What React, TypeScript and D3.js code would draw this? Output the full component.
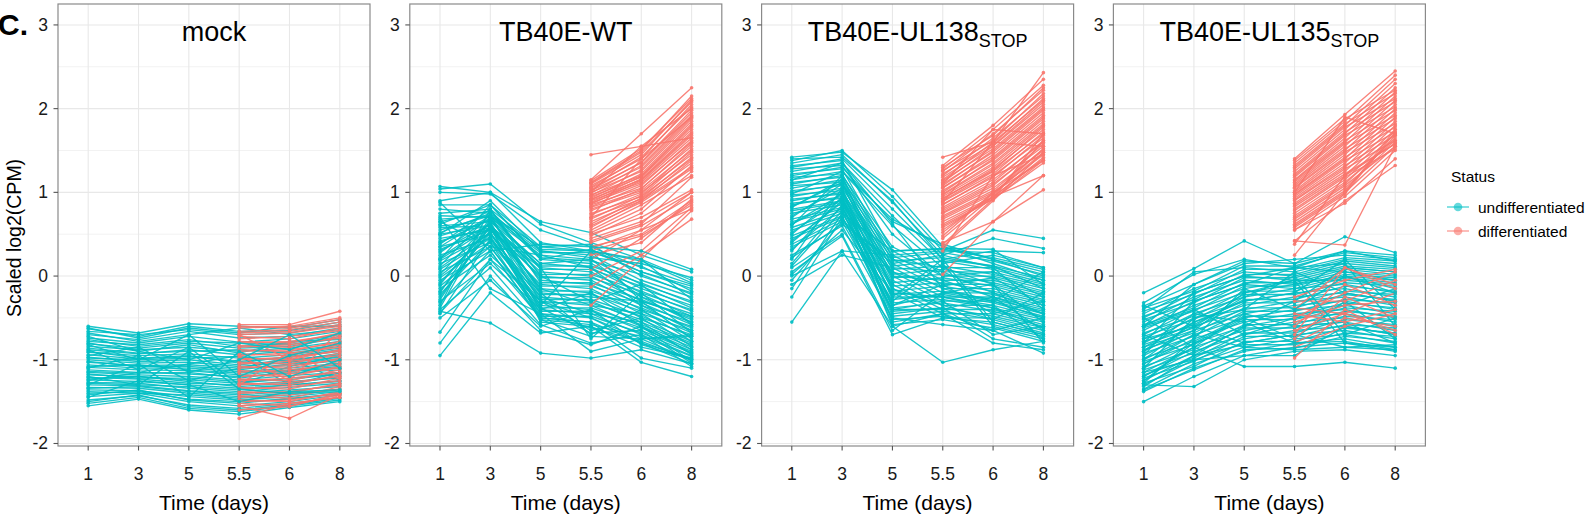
import React from "react";
import * as d3 from "d3";

// ---------- data ----------
const TIMES = ["1", "3", "5", "5.5", "6", "8"];
const DIFF_TIMES = ["5.5", "6", "8"];
const Y_TICKS = [-2, -1, 0, 1, 2, 3];
const Y_MINOR = [-1.5, -0.5, 0.5, 1.5, 2.5];
const PANEL_TITLES = ["mock", "TB40E-WT", "TB40E-UL138", "TB40E-UL135"];
const PANEL_SUBS = ["", "", "STOP", "STOP"];
const LEGEND_LABELS = ["undifferentiated", "differentiated"];

// undifferentiated: values at days 1,3,5,5.5,6,8
const mockUndiff = [
  [-0.60, -0.68, -0.57, -0.60, -0.62, -0.52],
  [-0.63, -0.72, -0.60, -0.66, -0.65, -0.55],
  [-0.66, -0.70, -0.64, -0.70, -0.68, -0.58],
  [-0.70, -0.76, -0.66, -0.74, -0.72, -0.62],
  [-0.74, -0.80, -0.72, -0.79, -0.75, -0.66],
  [-0.78, -0.82, -0.76, -0.84, -0.80, -0.70],
  [-0.81, -0.86, -0.80, -0.86, -0.84, -0.74],
  [-0.84, -0.88, -0.85, -0.90, -0.86, -0.78],
  [-0.88, -0.93, -0.88, -0.94, -0.90, -0.82],
  [-0.91, -0.95, -0.93, -0.98, -0.94, -0.86],
  [-0.94, -0.99, -0.96, -1.02, -0.97, -0.90],
  [-0.97, -1.02, -1.00, -1.06, -1.00, -0.94],
  [-1.00, -1.04, -1.03, -1.08, -1.03, -0.97],
  [-1.03, -1.07, -1.06, -1.10, -1.07, -1.01],
  [-1.06, -1.10, -1.10, -1.14, -1.10, -1.04],
  [-1.09, -1.12, -1.13, -1.18, -1.13, -1.08],
  [-1.12, -1.15, -1.17, -1.20, -1.16, -1.12],
  [-1.15, -1.18, -1.20, -1.24, -1.19, -1.15],
  [-1.18, -1.20, -1.24, -1.28, -1.22, -1.18],
  [-1.21, -1.23, -1.28, -1.30, -1.26, -1.22],
  [-1.24, -1.26, -1.30, -1.34, -1.30, -1.25],
  [-1.27, -1.28, -1.34, -1.38, -1.33, -1.28],
  [-1.30, -1.31, -1.37, -1.40, -1.36, -1.32],
  [-1.33, -1.34, -1.40, -1.44, -1.40, -1.35],
  [-1.36, -1.37, -1.44, -1.48, -1.44, -1.38],
  [-1.40, -1.38, -1.47, -1.50, -1.47, -1.40],
  [-1.44, -1.40, -1.50, -1.55, -1.50, -1.42],
  [-1.48, -1.43, -1.54, -1.58, -1.52, -1.45],
  [-1.52, -1.45, -1.58, -1.62, -1.55, -1.48],
  [-1.55, -1.47, -1.60, -1.65, -1.57, -1.50],
  [-0.62, -0.74, -0.62, -0.68, -0.60, -0.60],
  [-0.68, -0.78, -0.70, -0.62, -0.70, -0.64],
  [-0.76, -0.84, -0.78, -0.80, -0.82, -0.72],
  [-0.80, -0.90, -0.82, -0.92, -0.78, -0.76],
  [-0.86, -0.92, -0.90, -0.88, -0.92, -0.84],
  [-0.90, -0.98, -0.95, -1.04, -0.96, -0.88],
  [-0.98, -1.00, -0.98, -0.96, -1.02, -0.92],
  [-1.02, -1.08, -1.08, -1.12, -1.05, -0.99],
  [-1.08, -1.06, -1.12, -1.16, -1.12, -1.06],
  [-1.14, -1.16, -1.15, -1.22, -1.14, -1.10],
  [-1.17, -1.22, -1.22, -1.26, -1.24, -1.16],
  [-1.23, -1.20, -1.26, -1.32, -1.28, -1.20],
  [-1.28, -1.30, -1.32, -1.36, -1.30, -1.26],
  [-1.34, -1.32, -1.38, -1.42, -1.38, -1.30],
  [-1.38, -1.40, -1.42, -1.46, -1.42, -1.36],
  [-1.42, -1.36, -1.48, -1.52, -1.46, -1.41],
  [-1.50, -1.42, -1.56, -1.60, -1.54, -1.46],
  [-1.10, -0.95, -1.25, -1.10, -0.98, -1.25],
  [-0.88, -1.12, -0.85, -1.30, -1.08, -0.95],
  [-1.25, -1.15, -1.05, -0.95, -1.30, -1.15],
  [-0.82, -1.00, -0.70, -1.20, -0.95, -0.80],
  [-1.30, -1.05, -1.45, -0.90, -1.20, -1.00],
  [-0.95, -0.85, -1.15, -1.00, -0.70, -1.10],
  [-1.20, -1.30, -0.90, -1.35, -1.40, -1.38],
  [-0.72, -0.90, -1.00, -0.80, -0.88, -0.68],
  [-1.45, -1.25, -1.30, -1.50, -1.38, -1.36],
];
// differentiated: values at days 5.5,6,8
const mockDiff = [
  [-0.58, -0.58, -0.42],
  [-0.60, -0.62, -0.52],
  [-0.62, -0.60, -0.50],
  [-0.66, -0.64, -0.55],
  [-0.68, -0.66, -0.58],
  [-0.70, -0.68, -0.60],
  [-0.72, -0.75, -0.62],
  [-0.75, -0.72, -0.65],
  [-0.78, -0.80, -0.68],
  [-0.80, -0.78, -0.70],
  [-0.83, -0.85, -0.72],
  [-0.85, -0.82, -0.74],
  [-0.88, -0.90, -0.78],
  [-0.90, -0.88, -0.80],
  [-0.93, -0.95, -0.82],
  [-0.95, -0.92, -0.85],
  [-0.98, -1.00, -0.88],
  [-1.00, -0.97, -0.90],
  [-1.03, -1.05, -0.92],
  [-1.05, -1.02, -0.95],
  [-1.08, -1.10, -0.98],
  [-1.10, -1.07, -1.00],
  [-1.13, -1.15, -1.02],
  [-1.15, -1.12, -1.05],
  [-1.18, -1.20, -1.08],
  [-1.20, -1.17, -1.10],
  [-1.23, -1.25, -1.12],
  [-1.25, -1.22, -1.15],
  [-1.28, -1.30, -1.18],
  [-1.30, -1.27, -1.20],
  [-1.33, -1.35, -1.22],
  [-1.35, -1.32, -1.25],
  [-1.38, -1.40, -1.28],
  [-1.40, -1.38, -1.30],
  [-1.43, -1.46, -1.32],
  [-1.45, -1.42, -1.35],
  [-1.48, -1.50, -1.38],
  [-1.50, -1.48, -1.40],
  [-1.52, -1.55, -1.42],
  [-1.55, -1.52, -1.45],
  [-1.60, -1.56, -1.40],
  [-1.70, -1.52, -1.45],
  [-1.55, -1.70, -1.42],
  [-0.70, -1.00, -0.80],
  [-1.30, -0.90, -1.20],
  [-0.95, -1.25, -0.65],
];

const wtUndiff = [
  [1.07, 1.00, 0.65, 0.52, 0.25, 0.05],
  [1.04, 1.10, 0.62, 0.40, 0.20, -0.05],
  [1.00, 0.98, 0.55, 0.35, 0.10, -0.10],
  [0.90, 1.00, 0.40, 0.30, 0.05, -0.15],
  [0.85, 0.85, 0.35, 0.38, 0.00, -0.20],
  [0.80, 0.75, 0.30, 0.25, -0.05, -0.25],
  [0.72, 0.70, 0.25, 0.20, -0.10, -0.30],
  [0.65, 0.78, 0.20, 0.15, -0.15, -0.35],
  [0.60, 0.65, 0.15, 0.10, -0.20, -0.40],
  [0.55, 0.72, 0.10, 0.05, -0.25, -0.45],
  [0.50, 0.60, 0.05, 0.00, -0.30, -0.50],
  [0.45, 0.55, 0.00, -0.05, -0.35, -0.55],
  [0.40, 0.68, -0.05, -0.10, -0.40, -0.60],
  [0.35, 0.50, -0.10, -0.15, -0.45, -0.65],
  [0.30, 0.62, -0.15, -0.20, -0.50, -0.70],
  [0.25, 0.45, -0.20, -0.25, -0.30, -0.75],
  [0.20, 0.58, -0.25, -0.30, -0.55, -0.80],
  [0.15, 0.40, -0.30, -0.35, -0.60, -0.85],
  [0.10, 0.52, -0.35, -0.40, -0.65, -0.90],
  [0.05, 0.35, -0.40, -0.45, -0.70, -0.95],
  [0.00, 0.48, -0.45, -0.50, -0.75, -1.00],
  [-0.05, 0.30, -0.50, -0.55, -0.80, -1.05],
  [-0.10, 0.60, -0.55, -0.60, -0.85, -0.98],
  [-0.15, 0.25, -0.30, -0.65, -0.50, -0.88],
  [-0.20, 0.70, -0.20, -0.70, -0.40, -0.78],
  [-0.25, 0.55, 0.10, -0.75, -0.20, -0.68],
  [-0.30, 0.15, -0.40, -0.20, -0.60, -1.02],
  [-0.35, 0.80, 0.00, -0.30, -0.10, -0.58],
  [-0.40, 0.10, -0.58, -0.80, -0.70, -1.08],
  [-0.45, 0.45, -0.35, 0.30, -0.30, -0.48],
  [-0.50, -0.05, -0.60, -0.40, -0.82, -1.00],
  [-0.67, 0.20, -0.50, -0.55, -0.98, -1.10],
  [-0.80, 0.00, -0.65, -0.82, -0.60, -0.92],
  [-0.95, -0.20, -0.68, -0.60, -1.03, -1.20],
  [-0.42, -0.56, -0.92, -0.98, -0.88, -1.05],
  [0.70, -0.15, -0.45, -0.90, -0.75, -0.70],
  [0.75, 0.80, 0.32, 0.30, 0.18, -0.08],
  [0.68, 0.72, 0.28, 0.28, 0.12, -0.18],
  [0.62, 0.85, 0.22, 0.18, 0.02, -0.22],
  [0.58, 0.60, 0.12, 0.12, -0.08, -0.32],
  [0.52, 0.75, 0.08, 0.08, -0.12, -0.38],
  [0.48, 0.66, 0.02, 0.02, -0.18, -0.42],
  [0.42, 0.58, -0.02, -0.02, -0.22, -0.48],
  [0.38, 0.80, -0.08, -0.08, -0.28, -0.52],
  [0.32, 0.55, -0.12, -0.12, -0.32, -0.58],
  [0.28, 0.70, -0.18, -0.18, -0.38, -0.62],
  [0.22, 0.62, -0.22, -0.22, -0.42, -0.68],
  [0.18, 0.50, -0.28, -0.28, -0.48, -0.72],
  [0.12, 0.74, -0.32, -0.32, -0.52, -0.78],
  [0.08, 0.45, -0.38, -0.38, -0.58, -0.82],
  [0.02, 0.65, -0.42, -0.42, -0.62, -0.88],
  [-0.02, 0.40, -0.48, -0.48, -0.68, -0.92],
  [-0.08, 0.58, -0.52, -0.58, -0.72, -0.96],
  [-0.12, 0.35, -0.45, -0.62, -0.78, -1.00],
  [-0.18, 0.52, -0.38, -0.68, -0.65, -1.04],
  [-0.22, 0.42, -0.25, -0.45, -0.55, -0.94],
  [-0.28, 0.60, -0.15, -0.35, -0.45, -0.84],
  [-0.32, 0.30, -0.52, -0.72, -0.75, -0.72],
  [-0.44, 0.20, -0.30, -0.50, -0.80, -0.98],
  [0.65, 0.35, 0.25, 0.10, -0.35, -0.65],
  [0.88, 0.30, 0.38, 0.35, 0.30, 0.08],
  [0.50, 0.90, 0.30, 0.22, 0.15, -0.02],
  [0.20, 0.85, 0.20, 0.32, 0.05, -0.12],
  [-0.38, 0.68, 0.15, 0.20, -0.25, -0.55],
  [0.35, 0.72, 0.35, 0.30, 0.20, -0.28],
];
const wtDiff = [
  [1.45, 1.55, 2.00],
  [1.15, 1.70, 2.25],
  [1.14, 1.52, 2.12],
  [1.12, 1.50, 2.15],
  [1.11, 1.48, 2.08],
  [1.10, 1.45, 2.10],
  [1.08, 1.40, 2.05],
  [1.06, 1.42, 2.02],
  [1.05, 1.35, 1.95],
  [1.03, 1.36, 1.98],
  [1.02, 1.30, 1.90],
  [1.00, 1.25, 1.85],
  [0.99, 1.32, 1.92],
  [0.97, 1.20, 1.80],
  [0.96, 1.27, 1.88],
  [0.95, 1.18, 1.75],
  [0.93, 1.22, 1.82],
  [0.92, 1.15, 1.70],
  [0.91, 1.19, 1.78],
  [0.90, 1.12, 1.65],
  [0.88, 1.16, 1.72],
  [0.87, 1.10, 1.60],
  [0.86, 1.14, 1.68],
  [0.85, 1.05, 1.55],
  [0.83, 1.08, 1.62],
  [0.82, 1.02, 1.50],
  [0.80, 1.00, 1.45],
  [0.78, 1.04, 1.58],
  [0.75, 0.95, 1.40],
  [0.73, 0.98, 1.52],
  [0.70, 0.92, 1.35],
  [0.68, 0.96, 1.48],
  [0.65, 0.90, 1.30],
  [0.62, 0.93, 1.42],
  [0.60, 0.88, 1.28],
  [0.58, 0.90, 1.38],
  [0.55, 0.85, 1.20],
  [0.52, 0.80, 1.32],
  [0.50, 0.70, 1.03],
  [0.48, 0.75, 1.25],
  [0.45, 0.65, 1.00],
  [0.42, 0.62, 1.18],
  [0.40, 0.60, 0.95],
  [0.35, 0.50, 0.90],
  [0.33, 0.55, 1.00],
  [0.30, 0.48, 0.85],
  [0.25, 0.40, 0.92],
  [0.20, 0.55, 0.80],
  [0.08, 0.45, 0.88],
  [0.00, 0.30, 0.82],
  [-0.13, 0.25, 0.68],
  [-0.35, 0.20, 0.78],
  [1.00, 1.55, 1.65],
  [0.70, 1.40, 1.90],
];

const ul138Undiff = [
  [1.42, 1.48, 1.03, 0.35, 0.20, 0.05],
  [1.38, 1.50, 0.95, 0.30, 0.55, 0.45],
  [1.35, 1.45, 0.88, 0.25, 0.45, 0.33],
  [1.30, 1.40, 0.80, 0.20, 0.30, 0.28],
  [1.25, 1.35, 0.72, 0.15, 0.25, 0.10],
  [1.20, 1.30, 0.65, 0.38, 0.20, 0.00],
  [1.15, 1.25, 0.60, 0.10, 0.10, -0.05],
  [1.10, 1.20, 0.35, 0.05, 0.05, -0.10],
  [1.05, 1.15, 0.30, 0.00, 0.00, -0.15],
  [1.00, 1.10, 0.25, -0.05, -0.05, -0.20],
  [0.95, 1.05, 0.20, -0.10, -0.10, -0.25],
  [0.90, 1.00, 0.15, -0.15, -0.15, -0.30],
  [0.85, 0.95, 0.10, -0.20, -0.20, -0.35],
  [0.80, 0.90, 0.05, -0.25, -0.25, -0.40],
  [0.75, 0.85, 0.00, -0.30, -0.30, -0.45],
  [0.70, 1.10, -0.05, -0.35, -0.35, -0.50],
  [0.65, 0.80, -0.10, -0.40, -0.40, -0.55],
  [0.60, 1.20, -0.15, -0.45, -0.45, -0.60],
  [0.55, 0.75, -0.20, -0.50, -0.50, -0.65],
  [0.50, 1.00, -0.25, 0.20, -0.55, -0.70],
  [0.45, 0.70, -0.30, 0.15, -0.60, -0.75],
  [0.40, 0.90, -0.35, -0.20, -0.10, -0.80],
  [0.35, 0.65, -0.40, -0.30, -0.70, -0.60],
  [0.30, 0.95, -0.45, -0.38, -0.75, -0.85],
  [0.25, 0.60, -0.50, -0.58, -0.65, -0.92],
  [0.20, 1.05, -0.55, -0.45, -0.80, -0.88],
  [0.15, 0.85, -0.60, -1.03, -0.88, -0.78],
  [0.10, 0.50, -0.65, -0.20, -0.30, 0.05],
  [0.05, 0.48, -0.70, -0.50, -0.55, -0.70],
  [0.00, 0.30, 0.25, 0.30, 0.28, 0.10],
  [-0.10, 0.25, 0.10, 0.05, -0.20, -0.45],
  [-0.15, 0.75, 0.30, 0.33, 0.32, -0.10],
  [-0.25, 0.70, -0.35, -0.10, -0.45, -0.30],
  [-0.55, 0.30, -0.60, -0.45, -0.65, -0.50],
  [1.28, 1.32, 0.50, 0.00, 0.05, -0.25],
  [0.98, 1.25, 0.68, 0.35, 0.15, -0.05],
  [0.62, 0.92, -0.25, -0.25, -0.38, -0.62],
  [0.82, 1.15, 0.00, -0.05, -0.25, -0.45],
  [1.32, 1.38, 0.30, 0.32, 0.22, 0.08],
  [1.22, 1.28, 0.22, 0.28, 0.18, 0.02],
  [1.18, 1.22, 0.18, 0.22, 0.12, -0.02],
  [1.12, 1.18, 0.12, 0.18, 0.08, -0.08],
  [1.08, 1.12, 0.08, 0.12, 0.02, -0.12],
  [1.02, 1.08, 0.02, 0.08, -0.02, -0.18],
  [0.97, 1.02, -0.02, 0.02, -0.08, -0.22],
  [0.92, 0.98, -0.08, -0.02, -0.12, -0.28],
  [0.87, 0.93, -0.12, -0.08, -0.18, -0.32],
  [0.83, 1.12, -0.18, -0.12, -0.22, -0.38],
  [0.78, 0.88, -0.22, -0.18, -0.28, -0.42],
  [0.72, 1.05, -0.28, -0.22, -0.32, -0.48],
  [0.68, 0.82, -0.32, -0.28, -0.38, -0.52],
  [0.62, 0.98, -0.38, -0.32, -0.42, -0.58],
  [0.58, 0.78, -0.42, -0.38, -0.48, -0.62],
  [0.52, 0.92, -0.48, -0.42, -0.52, -0.68],
  [0.48, 0.72, -0.52, -0.48, -0.58, -0.72],
  [0.42, 0.88, -0.58, -0.52, -0.62, -0.78],
  [0.38, 0.68, 0.05, -0.12, -0.02, -0.35],
  [0.32, 0.82, -0.15, -0.35, -0.52, -0.20],
  [0.12, 0.78, -0.40, -0.40, -0.25, -0.65],
  [0.02, 0.55, -0.20, -0.25, -0.35, -0.75],
  [1.40, 1.42, 0.90, 0.20, 0.12, -0.15],
  [1.15, 1.35, 0.62, -0.15, -0.30, -0.50],
  [0.22, 0.62, 0.20, 0.10, -0.10, -0.55],
  [-0.05, 0.65, 0.15, 0.25, 0.10, -0.40],
];
const ul138Diff = [
  [1.42, 1.60, 2.43],
  [1.32, 1.80, 2.35],
  [1.30, 1.68, 2.25],
  [1.28, 1.75, 2.28],
  [1.26, 1.62, 2.18],
  [1.25, 1.70, 2.22],
  [1.22, 1.58, 2.12],
  [1.20, 1.65, 2.15],
  [1.18, 1.56, 2.08],
  [1.15, 1.60, 2.10],
  [1.14, 1.52, 2.02],
  [1.12, 1.55, 2.05],
  [1.10, 1.48, 1.98],
  [1.08, 1.50, 2.00],
  [1.06, 1.42, 1.92],
  [1.05, 1.45, 1.95],
  [1.02, 1.38, 1.88],
  [1.00, 1.40, 1.90],
  [0.98, 1.35, 1.85],
  [0.97, 1.33, 1.82],
  [0.95, 1.30, 1.80],
  [0.93, 1.26, 1.78],
  [0.92, 1.28, 1.75],
  [0.90, 1.25, 1.70],
  [0.89, 1.22, 1.72],
  [0.86, 1.18, 1.68],
  [0.85, 1.20, 1.65],
  [0.82, 1.15, 1.60],
  [0.80, 1.12, 1.62],
  [0.78, 1.10, 1.55],
  [0.76, 1.08, 1.58],
  [0.75, 1.05, 1.50],
  [0.72, 1.02, 1.52],
  [0.70, 1.00, 1.45],
  [0.68, 0.98, 1.48],
  [0.65, 0.95, 1.40],
  [0.62, 0.94, 1.42],
  [0.60, 0.92, 1.35],
  [0.58, 0.92, 1.38],
  [0.55, 0.95, 1.20],
  [0.52, 0.98, 1.52],
  [0.48, 1.00, 1.38],
  [0.45, 0.95, 1.62],
  [0.40, 0.65, 1.03],
  [0.38, 0.92, 1.70],
  [0.35, 0.90, 1.48],
  [0.30, 1.20, 1.45],
  [0.02, 0.65, 1.20],
  [1.10, 1.75, 1.70],
  [0.88, 1.60, 1.55],
];

const ul135Undiff = [
  [-0.20, 0.09, 0.42, 0.15, 0.47, 0.28],
  [-0.32, 0.02, 0.20, 0.10, 0.30, 0.25],
  [-0.36, -0.10, 0.15, 0.20, 0.25, 0.20],
  [-0.40, 0.05, 0.10, 0.05, 0.20, 0.15],
  [-0.45, -0.15, 0.05, 0.00, 0.15, 0.10],
  [-0.50, -0.20, 0.00, -0.05, 0.10, 0.05],
  [-0.55, -0.25, -0.05, -0.10, 0.05, 0.00],
  [-0.60, -0.30, -0.10, -0.15, 0.00, -0.05],
  [-0.65, -0.35, -0.15, -0.05, -0.05, -0.10],
  [-0.70, -0.40, -0.20, -0.10, 0.00, -0.15],
  [-0.75, -0.45, -0.25, -0.15, -0.10, -0.20],
  [-0.80, -0.50, -0.30, -0.20, -0.15, -0.25],
  [-0.85, -0.55, -0.35, -0.25, -0.20, -0.30],
  [-0.90, -0.60, -0.40, -0.30, -0.25, -0.35],
  [-0.95, -0.65, -0.45, -0.35, -0.30, -0.40],
  [-1.00, -0.70, -0.50, -0.40, -0.35, -0.45],
  [-1.05, -0.75, -0.55, -0.45, -0.40, -0.50],
  [-1.10, -0.80, -0.60, -0.50, -0.45, -0.55],
  [-1.15, -0.85, -0.65, -0.55, -0.50, -0.60],
  [-1.20, -0.90, -0.70, -0.60, -0.55, -0.65],
  [-1.25, -0.95, -0.75, -0.65, -0.60, -0.70],
  [-1.30, -1.00, -0.80, -0.70, -0.65, -0.75],
  [-1.35, -1.05, -0.85, -0.75, -0.70, -0.80],
  [-1.38, -1.10, -0.90, -0.80, -0.75, -0.85],
  [-1.50, -1.20, -0.95, -0.85, -0.80, -0.90],
  [-1.30, -1.32, -1.00, -0.90, -0.88, -0.95],
  [-1.20, -0.85, -1.08, -1.08, -1.03, -1.10],
  [-1.10, -0.50, -0.40, 0.05, -0.20, -0.30],
  [-0.95, -0.30, -0.10, 0.10, 0.15, -0.60],
  [-0.85, -0.65, -0.20, -0.05, -0.80, -0.85],
  [-0.70, -0.95, -0.60, -0.30, 0.10, 0.05],
  [-0.60, -0.40, -0.70, -0.50, -0.35, -0.15],
  [-1.00, -0.55, -0.30, -0.20, 0.20, -0.40],
  [-1.25, -0.80, -0.50, -0.75, -0.30, -0.75],
  [-0.80, -0.20, 0.00, 0.10, 0.05, -0.05],
  [-1.15, -1.00, -0.95, -0.95, -0.60, -0.70],
  [-0.50, -0.85, -0.45, -0.60, -0.55, -0.80],
  [-0.35, -0.60, -0.80, -0.70, -0.85, -0.88],
  [-0.38, -0.18, 0.12, 0.12, 0.28, 0.22],
  [-0.42, -0.22, 0.08, 0.08, 0.22, 0.18],
  [-0.48, -0.28, 0.02, 0.02, 0.18, 0.12],
  [-0.52, -0.32, -0.02, -0.02, 0.12, 0.08],
  [-0.58, -0.38, -0.08, -0.08, 0.08, 0.02],
  [-0.62, -0.42, -0.12, -0.12, 0.02, -0.02],
  [-0.68, -0.48, -0.18, -0.18, -0.02, -0.08],
  [-0.72, -0.52, -0.22, -0.22, -0.08, -0.12],
  [-0.78, -0.58, -0.28, -0.28, -0.12, -0.18],
  [-0.82, -0.62, -0.32, -0.32, -0.18, -0.22],
  [-0.88, -0.68, -0.38, -0.38, -0.22, -0.28],
  [-0.92, -0.72, -0.42, -0.42, -0.28, -0.32],
  [-0.98, -0.78, -0.48, -0.48, -0.32, -0.38],
  [-1.02, -0.82, -0.52, -0.52, -0.38, -0.42],
  [-1.08, -0.88, -0.58, -0.58, -0.42, -0.48],
  [-1.12, -0.92, -0.62, -0.62, -0.48, -0.52],
  [-1.18, -0.98, -0.68, -0.68, -0.52, -0.58],
  [-1.22, -1.02, -0.72, -0.72, -0.58, -0.62],
  [-1.28, -1.08, -0.78, -0.78, -0.62, -0.68],
  [-1.32, -0.95, -0.82, -0.82, -0.68, -0.72],
  [-1.36, -1.12, -0.88, -0.86, -0.72, -0.78],
  [-1.05, -0.70, -0.85, -0.88, -0.85, -0.82],
  [-0.90, -0.45, -0.55, -0.80, -0.78, -0.88],
  [-0.75, -0.60, -0.25, 0.00, -0.70, -0.50],
  [-1.28, -0.75, -0.15, -0.40, 0.00, -0.20],
  [-0.60, -0.10, 0.18, 0.15, 0.30, 0.18],
];
const ul135Diff = [
  [1.40, 1.93, 2.45],
  [1.38, 1.88, 2.22],
  [1.35, 1.85, 2.40],
  [1.32, 1.82, 2.18],
  [1.30, 1.80, 2.35],
  [1.28, 1.78, 2.12],
  [1.25, 1.75, 2.30],
  [1.22, 1.72, 2.08],
  [1.20, 1.70, 2.25],
  [1.18, 1.68, 2.02],
  [1.15, 1.65, 2.20],
  [1.14, 1.62, 1.98],
  [1.12, 1.60, 2.15],
  [1.10, 1.58, 1.92],
  [1.08, 1.55, 2.10],
  [1.06, 1.52, 1.88],
  [1.05, 1.50, 2.05],
  [1.02, 1.48, 1.82],
  [1.00, 1.45, 2.00],
  [0.98, 1.42, 1.78],
  [0.97, 1.40, 1.95],
  [0.95, 1.38, 1.72],
  [0.93, 1.35, 1.90],
  [0.91, 1.32, 1.68],
  [0.90, 1.30, 1.85],
  [0.87, 1.28, 1.62],
  [0.85, 1.25, 1.80],
  [0.83, 1.22, 1.58],
  [0.80, 1.20, 1.75],
  [0.78, 1.18, 1.52],
  [0.75, 1.15, 1.70],
  [0.72, 1.12, 1.62],
  [0.70, 1.10, 1.65],
  [0.68, 1.08, 1.55],
  [0.65, 1.05, 1.60],
  [0.62, 1.02, 1.68],
  [0.60, 1.00, 1.55],
  [0.58, 0.98, 1.72],
  [0.55, 0.95, 1.50],
  [0.55, 0.87, 1.40],
  [0.42, 0.90, 1.32],
  [0.38, 1.20, 1.58],
  [0.42, 0.37, 1.55],
  [0.25, 1.00, 1.75],
  [1.00, 1.90, 1.70],
  [-0.25, -0.05, 0.08],
  [-0.30, -0.30, -0.05],
  [-0.38, -0.45, -0.65],
  [-0.40, 0.10, -0.10],
  [-0.50, -0.20, 0.05],
  [-0.55, -0.35, -0.30],
  [-0.60, -0.10, -0.35],
  [-0.65, -0.45, -0.20],
  [-0.75, -0.25, -0.50],
  [-0.80, -0.50, -0.60],
  [-0.85, -0.60, -0.45],
  [-0.98, -0.40, -0.70],
  [-0.45, -0.55, -0.40],
  [-0.70, 0.10, -0.15],
];

const UNDIFF_SETS = [mockUndiff, wtUndiff, ul138Undiff, ul135Undiff];
const DIFF_SETS = [mockDiff, wtDiff, ul138Diff, ul135Diff];

// ---------- layout ----------
const W = 1590;
const H = 531;
const PANEL_LEFT0 = 58;
const PANEL_STEP = 351.8;
const PANEL_W = 312;
const PANEL_TOP = 4;
const PANEL_BOTTOM = 446;
const TEAL = "#00BFC4";
const SALMON = "#F8766D";
const FONT = "'Liberation Sans', Arial, Helvetica, sans-serif";
const LATE_TEAL = 6;

function Panel({ index }: { index: number }) {
  const left = PANEL_LEFT0 + index * PANEL_STEP;
  const x = d3.scalePoint<string>().domain(TIMES).range([left, left + PANEL_W]).padding(0.6);
  const y = d3.scaleLinear().domain([-2.03, 3.25]).range([PANEL_BOTTOM, PANEL_TOP]);
  const undiff = UNDIFF_SETS[index];
  const diff = DIFF_SETS[index];
  const lineU = d3.line<number>().x((_, i) => x(TIMES[i]) as number).y((d) => y(d));
  const lineD = d3.line<number>().x((_, i) => x(DIFF_TIMES[i]) as number).y((d) => y(d));
  const early = undiff.slice(0, undiff.length - LATE_TEAL);
  const late = undiff.slice(undiff.length - LATE_TEAL);

  const drawU = (rows: number[][], key: string) =>
    rows.map((r, k) => (
      <g key={key + k}>
        <path d={lineU(r) || ""} fill="none" stroke={TEAL} strokeWidth={1.35} strokeOpacity={0.9} />
        {r.map((v, i) => (
          <circle key={i} cx={x(TIMES[i])} cy={y(v)} r={1.8} fill={TEAL} fillOpacity={0.9} />
        ))}
      </g>
    ));
  const drawD = (rows: number[][], key: string) =>
    rows.map((r, k) => (
      <g key={key + k}>
        <path d={lineD(r) || ""} fill="none" stroke={SALMON} strokeWidth={1.35} strokeOpacity={0.9} />
        {r.map((v, i) => (
          <circle key={i} cx={x(DIFF_TIMES[i])} cy={y(v)} r={1.8} fill={SALMON} fillOpacity={0.9} />
        ))}
      </g>
    ));

  const cx = left + PANEL_W / 2;
  return (
    <g>
      {Y_MINOR.map((t) => (
        <line key={"mn" + t} x1={left} x2={left + PANEL_W} y1={y(t)} y2={y(t)} stroke="#f2f2f2" strokeWidth={1} />
      ))}
      {Y_TICKS.map((t) => (
        <line key={"mj" + t} x1={left} x2={left + PANEL_W} y1={y(t)} y2={y(t)} stroke="#e8e8e8" strokeWidth={1.1} />
      ))}
      {TIMES.map((t) => (
        <line key={"vx" + t} x1={x(t)} x2={x(t)} y1={PANEL_TOP} y2={PANEL_BOTTOM} stroke="#e8e8e8" strokeWidth={1.1} />
      ))}
      {drawU(early, "e")}
      {drawD(diff, "d")}
      {drawU(late, "l")}
      <text x={cx} y={41} textAnchor="middle" fontSize={27} fontFamily={FONT} fill="#000">
        {PANEL_TITLES[index]}
        {PANEL_SUBS[index] ? (
          <tspan fontSize={18} dy={6}>
            {PANEL_SUBS[index]}
          </tspan>
        ) : null}
      </text>
      <rect x={left} y={PANEL_TOP} width={PANEL_W} height={PANEL_BOTTOM - PANEL_TOP} fill="none" stroke="#8a8a8a" strokeWidth={1.2} />
      {Y_TICKS.map((t) => (
        <g key={"yt" + t}>
          <line x1={left - 4.5} x2={left} y1={y(t)} y2={y(t)} stroke="#555" strokeWidth={1.1} />
          <text x={left - 10} y={y(t) + 6} textAnchor="end" fontSize={17.5} fontFamily={FONT} fill="#1a1a1a">
            {t}
          </text>
        </g>
      ))}
      {TIMES.map((t) => (
        <g key={"xt" + t}>
          <line x1={x(t)} x2={x(t)} y1={PANEL_BOTTOM} y2={PANEL_BOTTOM + 4.5} stroke="#555" strokeWidth={1.1} />
          <text x={x(t)} y={480} textAnchor="middle" fontSize={17.5} fontFamily={FONT} fill="#1a1a1a">
            {t}
          </text>
        </g>
      ))}
      <text x={cx} y={510} textAnchor="middle" fontSize={21} fontFamily={FONT} fill="#000">
        Time (days)
      </text>
    </g>
  );
}

export default function App() {
  const panels = [0, 1, 2, 3];
  const legendColors = [TEAL, SALMON];
  return (
    <svg
      width={W}
      height={H}
      viewBox={`0 0 ${W} ${H}`}
      style={{ position: "absolute", left: 0, top: 0, background: "#fff" }}
    >
      <rect x={0} y={0} width={W} height={H} fill="#fff" />
      {panels.map((i) => (
        <Panel key={i} index={i} />
      ))}
      <text x={-2} y={35} fontSize={30} fontWeight="bold" fontFamily={FONT} fill="#000">
        C.
      </text>
      <text
        transform={`translate(21,238) rotate(-90)`}
        textAnchor="middle"
        fontSize={19.5}
        fontFamily={FONT}
        fill="#000"
      >
        Scaled log2(CPM)
      </text>
      <text x={1451} y={182} fontSize={15.5} fontFamily={FONT} fill="#000">
        Status
      </text>
      {LEGEND_LABELS.map((lab, i) => {
        const ly = 207 + i * 24;
        return (
          <g key={lab}>
            <line x1={1447} x2={1469} y1={ly} y2={ly} stroke={legendColors[i]} strokeWidth={1.6} strokeOpacity={0.6} />
            <circle cx={1458} cy={ly} r={4.3} fill={legendColors[i]} fillOpacity={0.6} />
            <text x={1478} y={ly + 5.5} fontSize={15.5} fontFamily={FONT} fill="#000">
              {lab}
            </text>
          </g>
        );
      })}
    </svg>
  );
}
